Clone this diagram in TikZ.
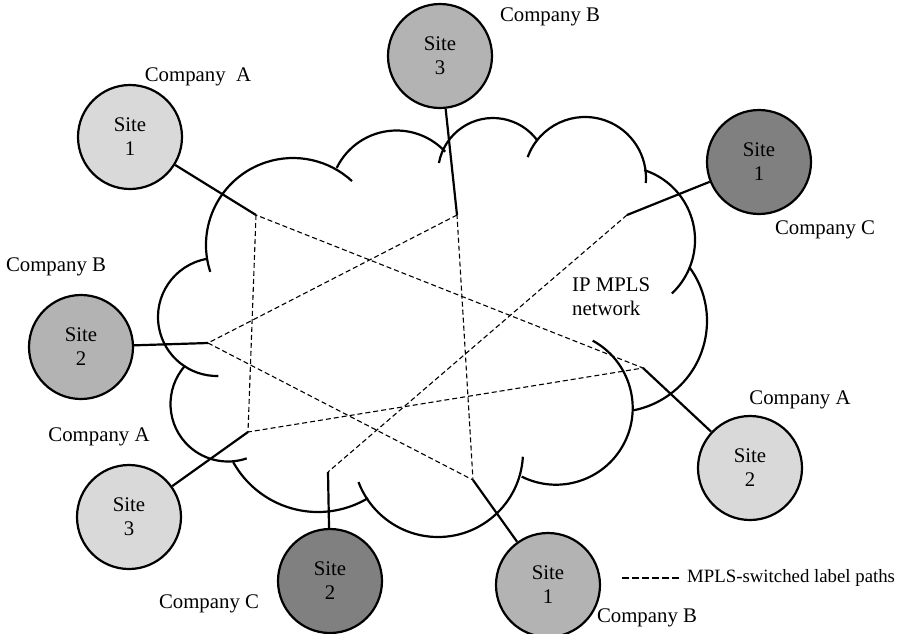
\documentclass[tikz,border=0pt]{standalone}
\usepackage{fontspec}
\setmainfont{Liberation Serif}
\definecolor{grayA}{RGB}{217,217,217}
\definecolor{grayB}{RGB}{179,179,179}
\definecolor{grayC}{RGB}{128,128,128}
% one lobe of the cloud: centre x, centre y (downwards), radius, start and end angle
\newcommand{\cloudarc}[5]{\draw[cloudline] (#1,-#2) ++(#4:#3) arc[start angle=#4, end angle=#5, radius=#3];}
\begin{document}
\begin{tikzpicture}[x=1pt,y=1pt,
  cloudline/.style={line width=2.2pt, line cap=butt},
  site/.style={circle, draw, line width=2.2pt, minimum size=104pt, inner sep=0pt,
               align=center, font=\fontsize{20.8}{24}\selectfont},
  link/.style={line width=2.2pt},
  lsp/.style={line width=1.1pt, dash pattern=on 5pt off 3pt},
  lbl/.style={font=\fontsize{20.8}{24}\selectfont, inner sep=0pt}]
\useasboundingbox (0,0) rectangle (897,-633);

% cloud outline
\cloudarc{293}{245}{87}{198}{47.3}
\cloudarc{396.5}{197}{66.5}{154}{42.9}
\cloudarc{493}{173}{55}{169.5}{36.9}
\cloudarc{585}{178}{61}{160}{-4.7}
\cloudarc{621.5}{240}{73.5}{72}{-46.7}
\cloudarc{616}{321}{91}{36.3}{-79}
\cloudarc{556}{408}{76.7}{61.4}{-116.6}
\cloudarc{438}{452}{85}{-3.2}{-159.3}
\cloudarc{318}{415}{97}{209}{301}
\cloudarc{228}{404}{57.5}{138}{289}
\cloudarc{217}{317}{59}{100.6}{271.3}

% edge points inside the network
\coordinate (pA1) at (256,-215);
\coordinate (pB3) at (457,-215);
\coordinate (pC1) at (627,-215);
\coordinate (pB2) at (208,-343);
\coordinate (pA3) at (248,-432);
\coordinate (pC2) at (328,-472);
\coordinate (pB1) at (473,-480);
\coordinate (pA2) at (643,-368);

% label switched paths
\draw[lsp] (pA1) -- (pA3) -- (pA2) -- cycle;
\draw[lsp] (pB3) -- (pB2) -- (pB1) -- cycle;
\draw[lsp] (pC1) -- (pC2);

% sites
\node[site, fill=grayA] (a1) at (130,-137) {Site\\1};
\node[site, fill=grayB] (b3) at (440,-56) {Site\\3};
\node[site, fill=grayC] (c1) at (759,-162) {Site\\1};
\node[site, fill=grayB] (b2) at (81,-347) {Site\\2};
\node[site, fill=grayA] (a2) at (750,-468) {Site\\2};
\node[site, fill=grayA] (a3) at (129,-517) {Site\\3};
\node[site, fill=grayC] (c2) at (330,-581) {Site\\2};
\node[site, fill=grayB] (b1) at (548,-585) {Site\\1};

% access links
\draw[link] (a1) -- (pA1);
\draw[link] (b3) -- (pB3);
\draw[link] (c1) -- (pC1);
\draw[link] (b2) -- (pB2);
\draw[link] (a2) -- (pA2);
\draw[link] (a3) -- (pA3);
\draw[link] (c2) -- (pC2);
\draw[link] (b1) -- (pB1);

% company labels
\node[lbl] (la1) at (198,-77) {Company~~A};
\node[lbl] (lb3) at (550,-17) {Company B};
\node[lbl] (lc1) at (825,-230) {Company C};
\node[lbl] (lb2) at (56,-267) {Company B};
\node[lbl] (la3) at (99,-437) {Company A};
\node[lbl] (la2) at (800,-400) {Company A};
\node[lbl] (lc2) at (209,-604) {Company C};
\node[lbl] (lb1) at (647,-618) {Company B};

\node[lbl, anchor=west, align=left] (net) at (572,-297) {IP MPLS\\network};

% legend
\coordinate (legA) at (622,-578);
\coordinate (legB) at (679,-578);
\draw[line width=1.1pt, dash pattern=on 6.6pt off 3.4pt] (legA) -- (legB);
\node[anchor=west, inner sep=0pt, font=\fontsize{18.8}{22}\selectfont] (leg) at (687,-578) {MPLS-switched label paths};
\end{tikzpicture}
\end{document}
